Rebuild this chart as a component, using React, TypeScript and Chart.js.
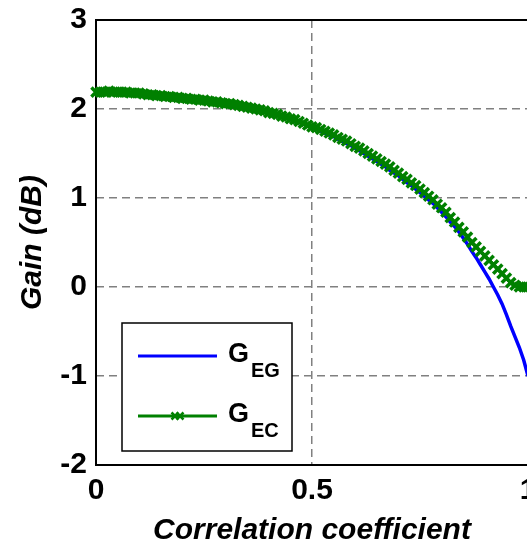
import { useEffect, useRef } from 'react';
import { Chart, registerables } from 'chart.js';

Chart.register(...registerables);

// Correlation coefficient samples (x axis)
const correlation = [
  0.00, 0.01, 0.02, 0.03, 0.04, 0.05, 0.06, 0.07, 0.08, 0.09,
  0.10, 0.11, 0.12, 0.13, 0.14, 0.15, 0.16, 0.17, 0.18, 0.19,
  0.20, 0.21, 0.22, 0.23, 0.24, 0.25, 0.26, 0.27, 0.28, 0.29,
  0.30, 0.31, 0.32, 0.33, 0.34, 0.35, 0.36, 0.37, 0.38, 0.39,
  0.40, 0.41, 0.42, 0.43, 0.44, 0.45, 0.46, 0.47, 0.48, 0.49,
  0.50, 0.51, 0.52, 0.53, 0.54, 0.55, 0.56, 0.57, 0.58, 0.59,
  0.60, 0.61, 0.62, 0.63, 0.64, 0.65, 0.66, 0.67, 0.68, 0.69,
  0.70, 0.71, 0.72, 0.73, 0.74, 0.75, 0.76, 0.77, 0.78, 0.79,
  0.80, 0.81, 0.82, 0.83, 0.84, 0.85, 0.86, 0.87, 0.88, 0.89,
  0.90, 0.91, 0.92, 0.93, 0.94, 0.95, 0.96, 0.97, 0.98, 0.99,
  1.00,
];

// G_EG gain in dB
const gainEG = [
  2.19, 2.19, 2.19, 2.19, 2.19, 2.19, 2.18, 2.18, 2.18, 2.18,
  2.17, 2.17, 2.16, 2.15, 2.15, 2.14, 2.14, 2.13, 2.13, 2.12,
  2.12, 2.11, 2.11, 2.10, 2.10, 2.09, 2.08, 2.08, 2.07, 2.06,
  2.06, 2.05, 2.04, 2.03, 2.02, 2.01, 2.00, 1.99, 1.98, 1.97,
  1.95, 1.94, 1.93, 1.91, 1.90, 1.88, 1.86, 1.85, 1.83, 1.81,
  1.79, 1.77, 1.75, 1.73, 1.71, 1.69, 1.66, 1.64, 1.61, 1.59,
  1.56, 1.53, 1.50, 1.47, 1.44, 1.41, 1.38, 1.35, 1.31, 1.28,
  1.25, 1.21, 1.17, 1.14, 1.10, 1.06, 1.02, 0.98, 0.94, 0.89,
  0.84, 0.79, 0.73, 0.68, 0.62, 0.55, 0.48, 0.40, 0.33, 0.25,
  0.17, 0.09, 0.00, -0.09, -0.19, -0.31, -0.44, -0.56, -0.68, -0.82,
  -1.00,
];

// G_EC gain in dB
const gainEC = [
  2.19, 2.19, 2.19, 2.20, 2.19, 2.19, 2.19, 2.19, 2.18, 2.18,
  2.18, 2.17, 2.16, 2.16, 2.15, 2.15, 2.14, 2.14, 2.13, 2.13,
  2.12, 2.12, 2.11, 2.11, 2.10, 2.10, 2.09, 2.08, 2.08, 2.07,
  2.06, 2.06, 2.05, 2.04, 2.03, 2.02, 2.01, 2.00, 1.99, 1.98,
  1.96, 1.95, 1.94, 1.92, 1.91, 1.89, 1.88, 1.86, 1.84, 1.82,
  1.80, 1.79, 1.77, 1.75, 1.73, 1.71, 1.68, 1.66, 1.64, 1.61,
  1.58, 1.56, 1.53, 1.50, 1.47, 1.44, 1.41, 1.38, 1.35, 1.31,
  1.28, 1.24, 1.21, 1.17, 1.14, 1.10, 1.06, 1.02, 0.98, 0.93,
  0.89, 0.84, 0.78, 0.73, 0.67, 0.62, 0.56, 0.50, 0.45, 0.40,
  0.35, 0.30, 0.25, 0.20, 0.15, 0.10, 0.05, 0.02, 0.00, 0.00,
  0.00,
];

const seriesLabels = ['G_EG', 'G_EC'];
const seriesColors = ['#0000ff', '#008000'];
const xTicks = [0, 0.5, 1];
const yTicks = [-2, -1, 0, 1, 2, 3];

const FONT = "'Liberation Sans', Arial, Helvetica, sans-serif";

// Solid black axes box, drawn beneath the curves
const framePlugin = {
  id: 'frameBox',
  beforeDatasetsDraw(chart: any) {
    const { ctx, chartArea: a } = chart;
    ctx.save();
    ctx.strokeStyle = '#000';
    ctx.lineWidth = 2;
    ctx.strokeRect(a.left, a.top, a.right - a.left, a.bottom - a.top);
    ctx.restore();
  },
};

function drawCross(ctx: CanvasRenderingContext2D, x: number, y: number, r: number) {
  ctx.beginPath();
  ctx.moveTo(x - r, y - r);
  ctx.lineTo(x + r, y + r);
  ctx.moveTo(x - r, y + r);
  ctx.lineTo(x + r, y - r);
  ctx.stroke();
}

// Boxed legend inside the plot, with subscripted series names
const boxLegendPlugin = {
  id: 'boxLegend',
  afterDatasetsDraw(chart: any) {
    const { ctx, chartArea: a } = chart;
    const x0 = a.left + 26;
    const y0 = a.bottom - 142;
    const w = 170;
    const h = 128;
    ctx.save();
    ctx.fillStyle = '#fff';
    ctx.fillRect(x0, y0, w, h);
    ctx.strokeStyle = '#000';
    ctx.lineWidth = 1.5;
    ctx.strokeRect(x0, y0, w, h);
    chart.data.datasets.forEach((ds: any, i: number) => {
      const y = y0 + 33 + i * 60;
      ctx.strokeStyle = ds.borderColor;
      ctx.lineWidth = 3;
      ctx.beginPath();
      ctx.moveTo(x0 + 16, y);
      ctx.lineTo(x0 + 95, y);
      ctx.stroke();
      if (ds.pointStyle === 'crossRot') {
        ctx.lineWidth = 2.5;
        drawCross(ctx, x0 + 53, y, 3.5);
        drawCross(ctx, x0 + 58, y, 3.5);
      }
      const [main, sub] = String(ds.label).split('_');
      ctx.fillStyle = '#000';
      ctx.textAlign = 'left';
      ctx.textBaseline = 'alphabetic';
      ctx.font = `bold 27px ${FONT}`;
      ctx.fillText(main, x0 + 106, y + 6);
      const gw = ctx.measureText(main).width;
      ctx.font = `bold 20px ${FONT}`;
      ctx.fillText(sub, x0 + 106 + gw + 2, y + 21);
    });
    ctx.restore();
  },
};

export default function App() {
  const canvasRef = useRef<HTMLCanvasElement>(null);

  useEffect(() => {
    const canvas = canvasRef.current;
    if (!canvas) return;

    const tickFont = { family: FONT, size: 30, weight: 'bold' as const };
    const titleFont = { family: FONT, size: 30, weight: 'bold' as const, style: 'italic' as const };

    const chart = new Chart(canvas, {
      type: 'line',
      data: {
        datasets: [
          {
            label: seriesLabels[0],
            data: correlation.map((x, i) => ({ x, y: gainEG[i] })),
            borderColor: seriesColors[0],
            backgroundColor: seriesColors[0],
            borderWidth: 3.5,
            pointRadius: 0,
            tension: 0,
            order: 1,
            clip: false,
          },
          {
            label: seriesLabels[1],
            data: correlation.map((x, i) => ({ x, y: gainEC[i] })),
            borderColor: seriesColors[1],
            backgroundColor: seriesColors[1],
            borderWidth: 3,
            pointStyle: 'crossRot',
            pointRadius: 6.5,
            pointBorderWidth: 3.5,
            pointBorderColor: seriesColors[1],
            pointBackgroundColor: seriesColors[1],
            tension: 0,
            order: 0,
            clip: false,
          },
        ],
      },
      options: {
        responsive: false,
        animation: false,
        devicePixelRatio: 1,
        layout: { padding: { left: 0, top: 20, right: 72, bottom: 0 } },
        plugins: {
          legend: { display: false },
          tooltip: { enabled: false },
        },
        scales: {
          x: {
            type: 'linear',
            min: 0,
            max: 1,
            afterFit: (s: any) => {
              s.height = 84;
              s.paddingLeft = 0;
              s.paddingRight = 0;
            },
            afterBuildTicks: (s: any) => {
              s.ticks = xTicks.map((value) => ({ value }));
            },
            ticks: {
              font: tickFont,
              color: '#000',
              padding: 8,
              maxRotation: 0,
              callback: (v: any) => String(v),
            },
            grid: { drawTicks: false, color: '#808080', lineWidth: 1.5 },
            border: { display: false, dash: [8, 5] },
            title: {
              display: true,
              text: 'Correlation coefficient',
              font: titleFont,
              color: '#000',
              padding: { top: 0, bottom: 0 },
            },
          },
          y: {
            type: 'linear',
            min: -2,
            max: 3,
            afterFit: (s: any) => {
              s.width = 96;
              s.paddingTop = 0;
              s.paddingBottom = 0;
            },
            afterBuildTicks: (s: any) => {
              s.ticks = yTicks.map((value) => ({ value }));
            },
            ticks: {
              font: tickFont,
              color: '#000',
              padding: 9,
              callback: (v: any) => String(v),
            },
            grid: { drawTicks: false, color: '#808080', lineWidth: 1.5 },
            border: { display: false, dash: [8, 5] },
            title: {
              display: true,
              text: 'Gain (dB)',
              font: titleFont,
              color: '#000',
              padding: { top: 15, bottom: 0 },
            },
          },
        },
      },
      plugins: [framePlugin, boxLegendPlugin],
    });

    return () => chart.destroy();
  }, []);

  return (
    <div
      style={{
        position: 'fixed',
        left: 0,
        top: 0,
        width: 527,
        height: 549,
        overflow: 'hidden',
        background: '#fff',
      }}
    >
      <canvas
        ref={canvasRef}
        width={600}
        height={549}
        style={{ display: 'block', width: 600, height: 549 }}
      />
    </div>
  );
}
